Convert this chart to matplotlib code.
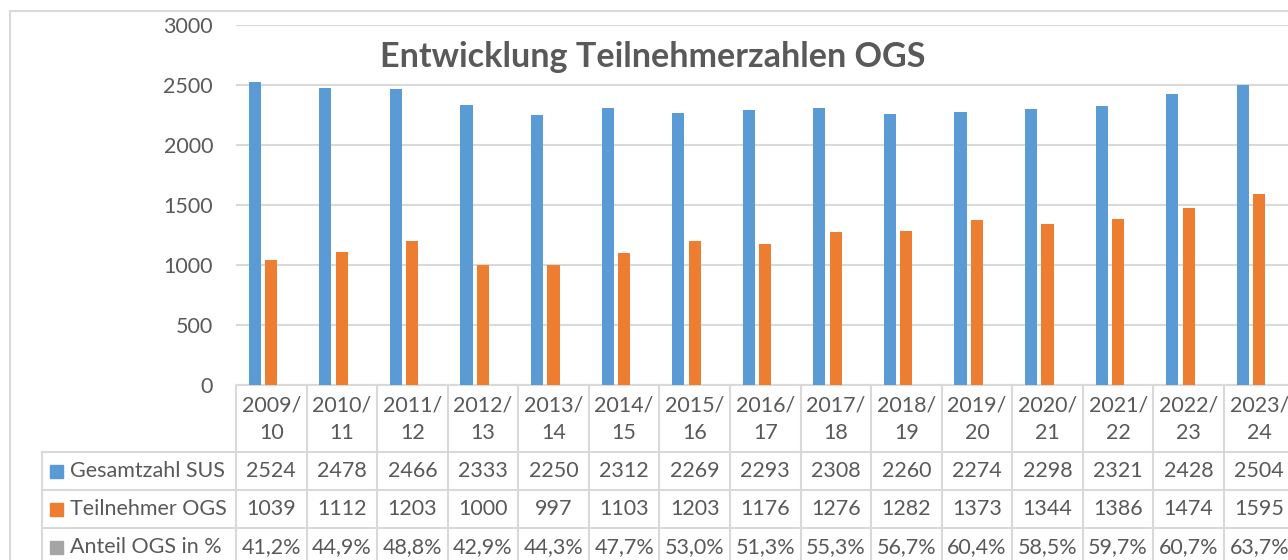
import matplotlib.pyplot as plt
import matplotlib.transforms as mtransforms
from matplotlib.lines import Line2D
from matplotlib.patches import Rectangle

plt.rcParams['font.family'] = ['Lato', 'DejaVu Sans']

# --- Data ---
school_years = ["2009/\n10", "2010/\n11", "2011/\n12", "2012/\n13", "2013/\n14",
                "2014/\n15", "2015/\n16", "2016/\n17", "2017/\n18", "2018/\n19",
                "2019/\n20", "2020/\n21", "2021/\n22", "2022/\n23", "2023/\n24"]
gesamtzahl_sus = [2524, 2478, 2466, 2333, 2250, 2312, 2269, 2293, 2308, 2260,
                  2274, 2298, 2321, 2428, 2504]
teilnehmer_ogs = [1039, 1112, 1203, 1000, 997, 1103, 1203, 1176, 1276, 1282,
                  1373, 1344, 1386, 1474, 1595]
anteil_ogs = [41.2, 44.9, 48.8, 42.9, 44.3, 47.7, 53.0, 51.3, 55.3, 56.7,
              60.4, 58.5, 59.7, 60.7, 63.7]

series_names = ["Gesamtzahl SUS", "Teilnehmer OGS", "Anteil OGS in %"]
series_colors = ["#5b9bd5", "#ed7d31", "#a5a5a5"]

TEXT = "#595959"
LINE = "#d9d9d9"
W, H = 1288, 560
FS = 15.5

fig = plt.figure(figsize=(W / 100, H / 100), dpi=100)
fig.patch.set_facecolor("white")

def fy(py):
    # pixel row (from top) -> figure fraction
    return 1 - py / H

def fx(px):
    return px / W

col_w = 70.57
n = len(school_years)
ax = fig.add_axes([fx(236), fy(385), fx(n * col_w), 360 / H])
ax.set_xlim(-0.5, n - 0.5)
ax.set_ylim(0, 3000)

# clustered bars; the percentage series sits on the same scale (like Excel)
x = range(n)
offsets = [-0.234, 0.0, 0.234]
anteil_frac = [v / 100 for v in anteil_ogs]
for vals, off, col in zip([gesamtzahl_sus, teilnehmer_ogs, anteil_frac], offsets, series_colors):
    ax.bar([i + off for i in x], vals, width=0.172, color=col, zorder=3)

ax.set_yticks(range(0, 3001, 500))
ax.yaxis.grid(True, color=LINE, linewidth=1.5, zorder=0)
ax.set_axisbelow(True)
for s in ["top", "right", "left"]:
    ax.spines[s].set_visible(False)
ax.spines["bottom"].set_color(LINE)
ax.spines["bottom"].set_linewidth(1.5)
ax.tick_params(axis="y", length=0, labelsize=FS, labelcolor=TEXT, pad=16.5)
ax.tick_params(axis="x", length=0, labelbottom=False)

fig.text(fx(653), fy(57), "Entwicklung Teilnehmerzahlen OGS",
         ha="center", va="center", fontsize=24.6, fontweight="bold", color=TEXT)

# --- data table under the axis ---
blend = mtransforms.blended_transform_factory(ax.transData, fig.transFigure)
row_edges = [385, 452, 490, 528, 566]

def hline(x0, x1, py, tr):
    fig.add_artist(Line2D([x0, x1], [fy(py), fy(py)], transform=tr,
                          color=LINE, linewidth=1.5, clip_on=False))

def vline(xv, py0, py1, tr):
    fig.add_artist(Line2D([xv, xv], [fy(py0), fy(py1)], transform=tr,
                          color=LINE, linewidth=1.5, clip_on=False))

# column borders (header row + data rows)
for i in range(n + 1):
    vline(i - 0.5, row_edges[0], row_edges[-1], blend)
# row borders
for py in row_edges[1:]:
    hline(-0.5, n - 0.5, py, blend)
    hline(fx(42), fx(236), py, fig.transFigure)
vline(fx(42), row_edges[1], row_edges[-1], fig.transFigure)

# header labels
for i, lab in enumerate(school_years):
    top, bottom = lab.split("\n")
    ax.text(i, fy(405), top, transform=blend, ha="center", va="center",
            fontsize=FS, color=TEXT)
    ax.text(i, fy(433), bottom, transform=blend, ha="center", va="center",
            fontsize=FS, color=TEXT)

rows = [
    [str(v) for v in gesamtzahl_sus],
    [str(v) for v in teilnehmer_ogs],
    [f"{v:.1f}%".replace(".", ",") for v in anteil_ogs],
]
for r, (cells, name, col) in enumerate(zip(rows, series_names, series_colors)):
    cy = (row_edges[r + 1] + row_edges[r + 2]) / 2
    fig.add_artist(Rectangle((fx(50), fy(cy + 6.5)), 13 / W, 13 / H,
                             transform=fig.transFigure, color=col))
    fig.text(fx(70), fy(cy), name, ha="left", va="center", fontsize=FS, color=TEXT)
    for i, c in enumerate(cells):
        ax.text(i, fy(cy), c, transform=blend, ha="center", va="center",
                fontsize=FS, color=TEXT)

# outer chart frame
fig.add_artist(Line2D([fx(10), 1], [fy(11), fy(11)], transform=fig.transFigure,
                      color=LINE, linewidth=1.5))
fig.add_artist(Line2D([fx(10), fx(10)], [fy(11), 0], transform=fig.transFigure,
                      color=LINE, linewidth=1.5))

fig.savefig("out.png", dpi=100)
